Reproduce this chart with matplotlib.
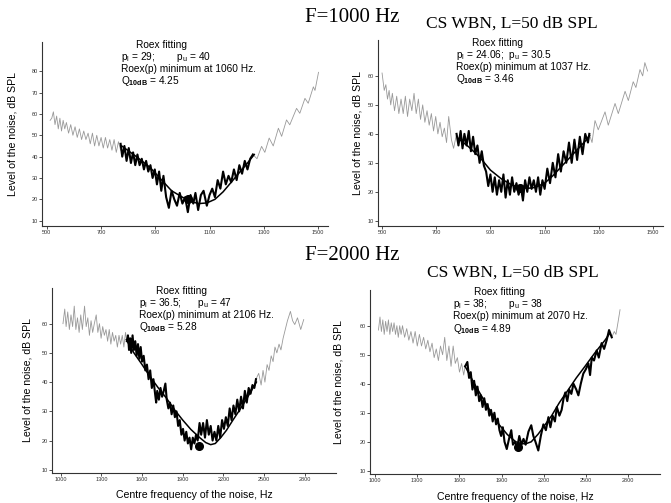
import matplotlib
matplotlib.use("Agg")
import matplotlib.pyplot as plt

plt.rcParams['font.family'] = ['Liberation Sans', 'DejaVu Sans']
plt.rcParams['mathtext.fontset'] = 'custom'
plt.rcParams['mathtext.rm'] = 'Liberation Sans'
plt.rcParams['mathtext.bf'] = 'Liberation Sans:bold'

# ---------------- Panel 1: F=1000 Hz (left) ----------------
p1_gray_left_x = [512, 518, 524, 530, 536, 542, 548, 554, 560, 566, 572, 580, 588, 596, 604, 612, 620, 628, 636, 644,
                  652, 660, 668, 676, 684, 692, 700, 708, 716, 724, 732, 740, 748, 756, 764, 772]
p1_gray_left_y = [57, 58, 61, 55, 59, 53, 58, 52, 57, 53, 56, 51, 55, 50, 54, 49, 53, 48, 52, 48,
                  51, 46, 51, 45, 50, 45, 49, 44, 49, 44, 48, 43, 48, 42, 47, 43]
p1_black_x = [772, 778, 786, 794, 802, 810, 818, 826, 834, 842, 850, 858, 866, 874, 882, 890, 898, 906, 914, 922,
              930, 940, 950, 960, 970, 980, 990, 1000, 1010, 1020, 1030, 1040, 1048, 1058, 1068, 1078, 1090, 1100,
              1110, 1120, 1130, 1140, 1150, 1160, 1170, 1180, 1190, 1200, 1210, 1220, 1230, 1240, 1250, 1260]
p1_black_y = [46, 40, 45, 38, 44, 37, 42, 36, 41, 36, 39, 34, 38, 33, 36, 30, 34, 27, 33, 24,
              31, 21, 16, 24, 20, 17, 23, 18, 21, 14, 22, 18, 23, 15, 22, 24, 17, 22,
              25, 21, 29, 25, 33, 27, 31, 28, 34, 29, 36, 32, 38, 34, 39, 41]
p1_gray_right_x = [1260, 1275, 1292, 1304, 1320, 1335, 1354, 1366, 1384, 1396, 1421, 1433, 1452, 1464, 1483, 1489, 1502]
p1_gray_right_y = [41, 39, 44.8, 42, 48.7, 45, 53.3, 49.5, 57.2, 54.9, 62.6, 60.3, 67.3, 65, 72.7, 71, 79.5]
p1_fit_x = [776, 830, 880, 920, 960, 1000, 1030, 1060, 1090, 1120, 1150, 1180, 1210, 1240, 1265]
p1_fit_y = [45, 40, 35, 29.5, 24, 21, 19, 18, 18.3, 20, 23.5, 28, 32.5, 37, 41]
p1_dot = (1021, 20)

# ---------------- Panel 2: F=1000 Hz (right) ----------------
p2_gray_left_x = [500, 508, 514, 520, 526, 532, 538, 546, 554, 562, 570, 578, 586, 594, 602, 610, 618, 626, 634, 642,
                  650, 658, 666, 674, 682, 690, 698, 706, 714, 722, 730, 738, 746, 756, 764, 775]
p2_gray_left_y = [61, 55, 57, 52, 55, 50, 54, 48, 53, 47, 52, 47, 53, 46, 52, 48, 54, 47, 52, 45,
                  50, 44, 48, 43, 47, 41, 46, 40, 44, 39, 42, 37, 46, 38, 35, 40]
p2_black_x = [775, 782, 790, 797, 804, 812, 820, 828, 836, 844, 852, 860, 868, 876, 884, 892, 900, 908, 916, 924,
              932, 940, 948, 956, 964, 972, 980, 988, 996, 1004, 1012, 1020, 1028, 1036, 1044, 1052, 1060, 1068,
              1076, 1084, 1092, 1100, 1110, 1120, 1130, 1140, 1150, 1160, 1170, 1180, 1190, 1200, 1210, 1220,
              1230, 1240, 1250, 1260, 1265]
p2_black_y = [40, 36, 41, 35, 40, 36, 41, 34, 39, 33, 36, 30, 34, 29, 27, 22, 26, 20, 25, 19,
              24, 20, 26, 18, 24, 19, 25, 20, 23, 19, 22, 17, 24, 20, 25, 21, 24, 20,
              25, 19, 24, 21, 28, 23, 30, 25, 33, 27, 34, 30, 37, 30, 38, 31,
              39, 33, 40, 37, 40]
p2_gray_right_x = [1265, 1275, 1286, 1298, 1323, 1335, 1360, 1372, 1397, 1409, 1427, 1437, 1452, 1462, 1470, 1480]
p2_gray_right_y = [40, 37, 44.6, 41.4, 47.6, 43, 50.5, 47, 54.7, 51.5, 58, 56, 62.2, 60, 64.6, 61.7]
p2_fit_x = [780, 820, 860, 900, 940, 980, 1010, 1037, 1065, 1100, 1130, 1160, 1190, 1220, 1250, 1266]
p2_fit_y = [38.5, 35.5, 32, 27.5, 24.5, 22.3, 21.5, 21.2, 21.5, 23, 25.5, 28.5, 31.5, 34.5, 37.5, 39.5]
p2_dot = (1010, 21.4)

# ---------------- Panel 3: F=2000 Hz (left) ----------------
p3_gray_left_x = [1017, 1030, 1040, 1052, 1064, 1076, 1088, 1100, 1112, 1124, 1136, 1148, 1160, 1176, 1188, 1200,
                  1212, 1224, 1236, 1248, 1262, 1274, 1286, 1298, 1310, 1322, 1334, 1346, 1358, 1370, 1382, 1394,
                  1406, 1418, 1430, 1442, 1454, 1466, 1478, 1488]
p3_gray_left_y = [60, 65, 59, 64, 58, 63, 59, 66, 58, 62, 57, 63, 58, 66, 59, 62,
                  56, 61, 57, 60, 63, 57, 60, 55, 59, 56, 58, 54, 58, 53, 57, 54,
                  56, 52, 56, 53, 56, 52, 57, 54]
p3_black_x = [1488, 1496, 1504, 1512, 1520, 1530, 1540, 1550, 1560, 1570, 1580, 1590, 1600, 1612, 1624, 1636, 1648,
              1660, 1672, 1684, 1696, 1704, 1712, 1724, 1736, 1748, 1760, 1772, 1782, 1794, 1806, 1818, 1830, 1842,
              1854, 1866, 1878, 1890, 1902, 1914, 1926, 1938, 1950, 1962, 1974, 1986, 1998, 2010, 2024, 2036, 2050,
              2064, 2078, 2092, 2106, 2120, 2134, 2148, 2162, 2176, 2190, 2204, 2218, 2232, 2246, 2260, 2274, 2288,
              2302, 2316, 2330, 2344, 2358, 2372, 2386, 2400, 2414, 2428, 2440]
p3_black_y = [54, 56, 51, 55, 50, 56, 51, 54, 49, 53, 48, 52, 47, 49, 44, 46, 41,
              44, 38, 41, 36, 33, 37, 34, 38, 35, 37, 39.5, 34, 31, 33, 29, 32, 28,
              30, 25, 27, 22, 24, 20, 23, 19, 21, 17, 21, 19, 22, 20, 26, 22, 26,
              21, 27, 22, 25, 20, 23, 20, 25, 21, 27, 24, 28, 25, 31, 27, 32, 29,
              34, 30, 35, 31, 37, 33, 38, 36, 39, 38, 41]
p3_gray_right_x = [2440, 2460, 2478, 2492, 2506, 2522, 2536, 2552, 2566, 2580, 2594, 2610, 2624, 2640, 2656, 2672,
                   2694, 2710, 2726, 2746, 2770, 2792]
p3_gray_right_y = [41, 43, 39, 44, 40, 46, 44, 49, 47, 52, 50, 53, 51, 55, 58, 61,
                   64.2, 61, 59.7, 62, 58, 61.4]
p3_fit_x = [1484, 1540, 1600, 1657, 1720, 1780, 1840, 1900, 1960, 2025, 2070, 2106, 2140, 2180, 2222, 2270, 2320,
            2380, 2443]
p3_fit_y = [54.5, 50, 46, 42, 38, 34.5, 30.5, 27, 23.8, 21, 19.3, 18.6, 19, 21, 23.5, 27, 30.5, 35, 40]
p3_dot = (2020, 18.2)

# ---------------- Panel 4: F=2000 Hz (right) ----------------
p4_gray_left_x = [1024, 1035, 1045, 1055, 1065, 1075, 1085, 1095, 1105, 1115, 1125, 1135, 1145, 1155, 1165, 1175,
                  1185, 1195, 1210, 1225, 1240, 1255, 1270, 1285, 1300, 1315, 1330, 1345, 1360, 1375, 1390, 1405,
                  1420, 1435, 1450, 1465, 1480, 1495, 1510, 1525, 1540, 1555, 1570, 1585, 1600, 1615, 1630, 1640]
p4_gray_left_y = [58.5, 63, 58, 62, 57, 61.5, 58, 62, 57, 61, 58, 61, 57, 60, 56, 60,
                  57, 60, 56, 59, 55, 58, 54, 58, 53, 57, 53, 56, 52, 55, 51, 54,
                  49, 52, 48, 53, 50, 56, 48, 53, 46, 53, 47, 49, 44, 47, 43, 46]
p4_black_x = [1640, 1656, 1668, 1680, 1692, 1704, 1716, 1728, 1740, 1752, 1764, 1776, 1788, 1800, 1812, 1824, 1836,
              1848, 1860, 1872, 1884, 1896, 1908, 1920, 1936, 1952, 1968, 1980, 1995, 2010, 2025, 2040, 2055, 2070,
              2090, 2110, 2125, 2140, 2160, 2178, 2196, 2214, 2232, 2246, 2262, 2278, 2292, 2310, 2326, 2340, 2352,
              2366, 2380, 2395, 2410, 2430, 2445, 2462, 2480, 2498, 2516, 2528, 2540, 2556, 2575, 2590, 2610, 2628,
              2646, 2663, 2682]
p4_black_y = [46, 47.5, 42, 44, 38, 41, 36, 39, 34, 36, 32, 35, 31, 33, 29, 31, 27,
              30, 26, 28, 24, 22, 25, 20, 17.5, 21, 24, 19, 20, 18, 22, 19, 21, 19,
              23.5, 25.7, 22, 20, 17, 22, 26, 24, 28.5, 25, 29, 27, 32, 29, 31, 35, 37,
              34, 38, 36.5, 40, 38, 36, 40, 43.5, 45, 47, 43, 49, 48, 51.5, 49, 54, 52,
              55, 58.5, 56]
p4_gray_right_x = [2682, 2700, 2712, 2726, 2741]
p4_gray_right_y = [56, 58, 57, 61, 65.5]
p4_fit_x = [1640, 1700, 1760, 1820, 1880, 1940, 2000, 2040, 2070, 2110, 2160, 2210, 2255, 2310, 2374, 2430, 2492,
            2560, 2634, 2670]
p4_fit_y = [46, 40.5, 35.5, 30.5, 26, 22.5, 20, 19.4, 19.3, 20, 22.7, 26, 29, 33.5, 38, 42, 46, 50.5, 55, 57.5]
p4_dot = (2014, 18.3)

# Text content
titles_top = ["F=1000 Hz", "F=2000 Hz"]
subtitle = "CS WBN, L=50 dB SPL"
ylab = "Level of the noise, dB SPL"
xlab = "Centre frequency of the noise, Hz"
p_l = ["29;", "24.06;", "36.5;", "38;"]
p_u = ["40", "30.5", "47", "38"]
gaps = ["        ", "  ", "      ", "        "]
minima = [1060, 1037, 2106, 2070]
q10 = ["4.25", "3.46", "5.28", "4.89"]

x_ticks_1k = [500, 700, 900, 1100, 1300, 1500]
x_ticks_2k = [1000, 1300, 1600, 1900, 2200, 2500, 2800]

W, H = 671, 503
fig = plt.figure(figsize=(W / 100, H / 100), dpi=100)

def rect(l, r, t, b):
    return [l / W, (H - b) / H, (r - l) / W, (b - t) / H]

panels = [
    dict(rect=rect(42, 328, 42, 226), xlim=(482, 1537), ylim=(7.5, 93.7), yt=[10, 20, 30, 40, 50, 60, 70, 80],
         xt=x_ticks_1k, gl=(p1_gray_left_x, p1_gray_left_y), bk=(p1_black_x, p1_black_y),
         gr=(p1_gray_right_x, p1_gray_right_y), fit=(p1_fit_x, p1_fit_y), dot=p1_dot,
         ylx=-0.084, xl=False, txt=(162, 121, 45)),
    dict(rect=rect(378, 663, 40, 226), xlim=(485, 1537), ylim=(8.2, 72.4), yt=[10, 20, 30, 40, 50, 60],
         xt=x_ticks_1k, gl=(p2_gray_left_x, p2_gray_left_y), bk=(p2_black_x, p2_black_y),
         gr=(p2_gray_right_x, p2_gray_right_y), fit=(p2_fit_x, p2_fit_y), dot=p2_dot,
         ylx=-0.055, xl=False, txt=(497, 456, 43)),
    dict(rect=rect(52, 336, 288, 473), xlim=(936, 3030), ylim=(8.9, 72.2), yt=[10, 20, 30, 40, 50, 60],
         xt=x_ticks_2k, gl=(p3_gray_left_x, p3_gray_left_y), bk=(p3_black_x, p3_black_y),
         gr=(p3_gray_right_x, p3_gray_right_y), fit=(p3_fit_x, p3_fit_y), dot=p3_dot,
         ylx=-0.07, xl=True, txt=(182, 139, 291)),
    dict(rect=rect(370, 660, 290, 474), xlim=(964, 3025), ylim=(8.9, 72.3), yt=[10, 20, 30, 40, 50, 60],
         xt=x_ticks_2k, gl=(p4_gray_left_x, p4_gray_left_y), bk=(p4_black_x, p4_black_y),
         gr=(p4_gray_right_x, p4_gray_right_y), fit=(p4_fit_x, p4_fit_y), dot=p4_dot,
         ylx=-0.093, xl=True, txt=(500, 453, 292)),
]

for i, p in enumerate(panels):
    ax = fig.add_axes(p['rect'])
    ax.plot(*p['gl'], color='#999999', lw=0.6)
    ax.plot(*p['gr'], color='#999999', lw=0.6)
    ax.plot(*p['bk'], color='black', lw=1.5)
    ax.plot(*p['fit'], color='black', lw=1.1)
    ax.plot([p['dot'][0]], [p['dot'][1]], 'o', color='black', ms=5.5)
    ax.set_xlim(*p['xlim'])
    ax.set_ylim(*p['ylim'])
    ax.set_xticks(p['xt'])
    ax.set_yticks(p['yt'])
    for s in ['top', 'right']:
        ax.spines[s].set_visible(False)
    for s in ['left', 'bottom']:
        ax.spines[s].set_linewidth(0.8)
        ax.spines[s].set_color('#333333')
    ax.tick_params(direction='out', length=2, width=0.6, labelsize=4, pad=1, colors='#333333')
    ax.set_ylabel(ylab, fontsize=7.6)
    ax.yaxis.set_label_coords(p['ylx'], 0.5)
    if p['xl']:
        ax.set_xlabel(xlab, fontsize=7.6, labelpad=6)
    cx, lx, ty = p['txt']
    fig.text(cx / W, 1 - ty / H, "Roex fitting", ha='center', va='center', fontsize=7.3)
    fig.text(lx / W, 1 - (ty + 12) / H,
             r"p$_\mathregular{l}$ = " + p_l[i] + gaps[i] + r"p$_\mathregular{u}$ = " + p_u[i],
             ha='left', va='center', fontsize=7.3)
    fig.text(lx / W, 1 - (ty + 24) / H, "Roex(p) minimum at %d Hz." % minima[i],
             ha='left', va='center', fontsize=7.3)
    fig.text(lx / W, 1 - (ty + 36.5) / H, r"Q$_{\mathbf{10dB}}$ = " + q10[i],
             ha='left', va='center', fontsize=7.3)

fig.text(352 / W, 1 - 17 / H, titles_top[0], ha='center', va='center', fontsize=15,
         family='Liberation Serif')
fig.text(512 / W, 1 - 24 / H, subtitle, ha='center', va='center', fontsize=12.5,
         family='Liberation Serif')
fig.text(352 / W, 1 - 256 / H, titles_top[1], ha='center', va='center', fontsize=15,
         family='Liberation Serif')
fig.text(513 / W, 1 - 273 / H, subtitle, ha='center', va='center', fontsize=12.5,
         family='Liberation Serif')

fig.savefig("out.png", dpi=100)
